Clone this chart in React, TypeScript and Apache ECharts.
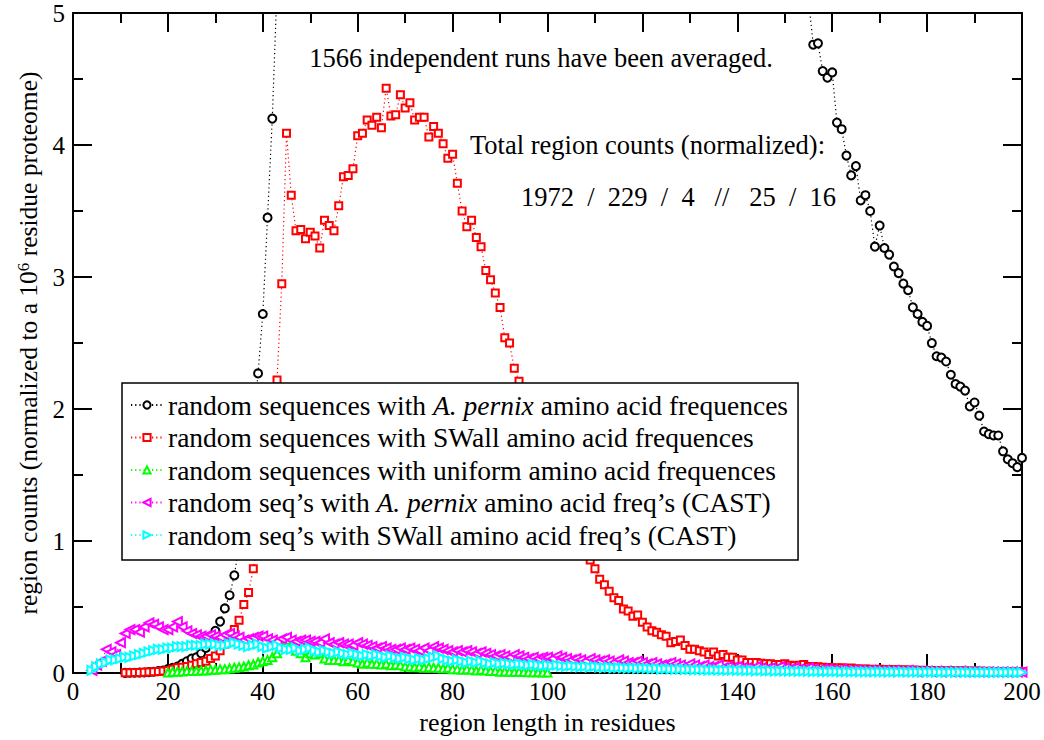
import React, { useEffect, useRef } from "react";
import * as echarts from "echarts";

const FONT = '"Liberation Serif", "Times New Roman", serif';

// x-axis ticks / y-axis ticks
const xTicks = { min: 0, max: 200, step: 20 };
const yTicks = { min: 0, max: 5, step: 1 };

// Black: random sequences with A. pernix frequencies (left part starts at length 11)
const pernixLeftStart = 11;
const pernixLeft = [
  0.002, 0.003, 0.003, 0.004, 0.005, 0.007, 0.01, 0.015, 0.02, 0.03,
  0.04, 0.05, 0.07, 0.09, 0.11, 0.12, 0.15, 0.19, 0.25, 0.32,
  0.39, 0.49, 0.59, 0.74, 0.97, 1.25, 1.55, 1.9, 2.27, 2.72,
  3.45, 4.2, 5.2,
];
// right part starts at length 155 (values in between are above the plotted range)
const pernixRightStart = 155;
const pernixRight = [
  5.1, 4.76, 4.77, 4.56, 4.51, 4.55, 4.17, 4.12, 3.92, 3.77,
  3.84, 3.58, 3.62, 3.5, 3.23, 3.39, 3.22, 3.17, 3.08, 3.03,
  2.95, 2.9, 2.77, 2.72, 2.66, 2.63, 2.5, 2.4, 2.39, 2.36,
  2.26, 2.19, 2.17, 2.14, 2.02, 2.05, 1.95, 1.83, 1.81, 1.8,
  1.8, 1.68, 1.62, 1.59, 1.56, 1.63,
];

// Red: random sequences with SWall frequencies, lengths 11..200
const swallStart = 11;
const swall = [
  0.003, 0.003, 0.004, 0.005, 0.006, 0.008, 0.01, 0.012, 0.015, 0.02,
  0.03, 0.04, 0.045, 0.05, 0.06, 0.07, 0.08, 0.09, 0.11, 0.13,
  0.17, 0.22, 0.27, 0.33, 0.4, 0.52, 0.61, 0.79, 1.02, 1.3,
  1.6, 1.92, 2.22, 2.95, 4.09, 3.62, 3.35, 3.36, 3.29, 3.34,
  3.31, 3.22, 3.43, 3.39, 3.35, 3.54, 3.76, 3.77, 3.82, 4.07,
  4.09, 4.19, 4.15, 4.21, 4.13, 4.43, 4.22, 4.23, 4.38, 4.28,
  4.32, 4.19, 4.21, 4.21, 4.06, 4.14, 4.09, 4.01, 3.9, 3.93,
  3.71, 3.5, 3.38, 3.43, 3.3, 3.23, 3.05, 2.98, 2.88, 2.77,
  2.54, 2.5, 2.31, 2.21, 2.08, 1.95, 1.83, 1.72, 1.61, 1.51,
  1.42, 1.33, 1.25, 1.17, 1.09, 1.02, 0.96, 0.91, 0.857, 0.79,
  0.71, 0.67, 0.62, 0.57, 0.55, 0.485, 0.47, 0.43, 0.44, 0.385,
  0.35, 0.32, 0.31, 0.29, 0.28, 0.23, 0.24, 0.25, 0.21, 0.18,
  0.18, 0.17, 0.16, 0.14, 0.16, 0.13, 0.14, 0.12, 0.12, 0.1,
  0.1, 0.08, 0.08, 0.08, 0.075, 0.07, 0.07, 0.065, 0.065, 0.07,
  0.06, 0.055, 0.06, 0.065, 0.05, 0.05, 0.048, 0.045, 0.042, 0.04,
  0.038, 0.04, 0.035, 0.038, 0.033, 0.03, 0.032, 0.03, 0.028, 0.03,
  0.027, 0.025, 0.027, 0.024, 0.025, 0.022, 0.023, 0.02, 0.022, 0.02,
  0.019, 0.02, 0.018, 0.017, 0.018, 0.016, 0.017, 0.015, 0.016, 0.014,
  0.015, 0.013, 0.014, 0.012, 0.013, 0.012, 0.011, 0.012, 0.01, 0.011,
];

// Green: uniform frequencies, lengths 20..100
const uniformStart = 20;
const uniform = [
  0.005, 0.01, 0.01, 0.012, 0.015, 0.015, 0.018, 0.02, 0.02, 0.025,
  0.025, 0.03, 0.03, 0.035, 0.04, 0.045, 0.05, 0.06, 0.065, 0.08,
  0.09, 0.1, 0.12, 0.15, 0.2, 0.25, 0.2, 0.17, 0.15, 0.12,
  0.15, 0.14, 0.15, 0.11, 0.1, 0.1, 0.1, 0.09, 0.1, 0.09,
  0.08, 0.07, 0.08, 0.07, 0.07, 0.065, 0.07, 0.06, 0.065, 0.06,
  0.05, 0.05, 0.045, 0.05, 0.04, 0.045, 0.04, 0.04, 0.035, 0.04,
  0.03, 0.03, 0.025, 0.03, 0.025, 0.02, 0.025, 0.02, 0.015, 0.015,
  0.01, 0.012, 0.01, 0.008, 0.01, 0.008, 0.006, 0.007, 0.006, 0.005,
  0.005,
];

// Magenta: CAST, A. pernix frequencies, lengths 4..200
const castPernixStart = 4;
const castPernix = [
  0.02, 0.06, 0.09, 0.18, 0.16, 0.14, 0.23, 0.3, 0.33, 0.33,
  0.31, 0.35, 0.38, 0.37, 0.35, 0.33, 0.33, 0.35, 0.39, 0.35,
  0.32, 0.3, 0.29, 0.28, 0.28, 0.29, 0.28, 0.27, 0.29, 0.3,
  0.28, 0.27, 0.25, 0.26, 0.27, 0.28, 0.28, 0.26, 0.25, 0.24,
  0.26, 0.27, 0.25, 0.24, 0.25, 0.25, 0.24, 0.24, 0.23, 0.26,
  0.23, 0.22, 0.23, 0.22, 0.22, 0.21, 0.23, 0.22, 0.21, 0.2,
  0.19, 0.2, 0.19, 0.18, 0.18, 0.19, 0.18, 0.19, 0.18, 0.17,
  0.19, 0.17, 0.2, 0.19, 0.18, 0.17, 0.16, 0.17, 0.16, 0.17,
  0.16, 0.15, 0.16, 0.15, 0.14, 0.13, 0.14, 0.13, 0.12, 0.14,
  0.13, 0.12, 0.11, 0.12, 0.11, 0.12, 0.12, 0.11, 0.13, 0.12,
  0.11, 0.1, 0.11, 0.1, 0.09, 0.11, 0.1, 0.09, 0.1, 0.09,
  0.08, 0.1, 0.09, 0.08, 0.08, 0.09, 0.08, 0.07, 0.08, 0.07,
  0.06, 0.07, 0.08, 0.07, 0.06, 0.05, 0.07, 0.06, 0.05, 0.06,
  0.05, 0.05, 0.06, 0.04, 0.05, 0.04, 0.05, 0.04, 0.04, 0.03,
  0.05, 0.04, 0.03, 0.04, 0.03, 0.05, 0.04, 0.03, 0.04, 0.03,
  0.03, 0.04, 0.03, 0.02, 0.03, 0.03, 0.025, 0.02, 0.03, 0.02,
  0.02, 0.025, 0.02, 0.015, 0.02, 0.02, 0.015, 0.02, 0.015, 0.02,
  0.015, 0.015, 0.02, 0.015, 0.01, 0.015, 0.015, 0.01, 0.015, 0.01,
  0.015, 0.01, 0.01, 0.015, 0.01, 0.01, 0.012, 0.01, 0.008, 0.01,
  0.01, 0.008, 0.01, 0.008, 0.01, 0.008, 0.008,
];

// Cyan: CAST, SWall frequencies, lengths 4..200
const castSwallStart = 4;
const castSwall = [
  0.02, 0.05, 0.07, 0.08, 0.1, 0.1, 0.11, 0.12, 0.12, 0.13,
  0.14, 0.15, 0.16, 0.17, 0.18, 0.18, 0.19, 0.19, 0.2, 0.2,
  0.2, 0.21, 0.21, 0.21, 0.22, 0.22, 0.22, 0.21, 0.21, 0.22,
  0.23, 0.22, 0.21, 0.2, 0.21, 0.22, 0.2, 0.19, 0.2, 0.21,
  0.19, 0.18, 0.18, 0.19, 0.17, 0.18, 0.19, 0.17, 0.16, 0.17,
  0.16, 0.15, 0.16, 0.15, 0.14, 0.15, 0.14, 0.13, 0.14, 0.13,
  0.14, 0.13, 0.12, 0.13, 0.12, 0.11, 0.12, 0.11, 0.1, 0.11,
  0.1, 0.11, 0.12, 0.13, 0.11, 0.1, 0.09, 0.1, 0.09, 0.08,
  0.09, 0.08, 0.09, 0.08, 0.07, 0.08, 0.07, 0.075, 0.07, 0.065,
  0.07, 0.065, 0.06, 0.065, 0.06, 0.055, 0.06, 0.055, 0.06, 0.055,
  0.05, 0.055, 0.05, 0.048, 0.05, 0.045, 0.05, 0.045, 0.042, 0.045,
  0.04, 0.042, 0.04, 0.038, 0.04, 0.035, 0.038, 0.035, 0.033, 0.035,
  0.03, 0.033, 0.03, 0.028, 0.03, 0.027, 0.028, 0.025, 0.027, 0.025,
  0.023, 0.025, 0.022, 0.023, 0.02, 0.022, 0.02, 0.02, 0.018, 0.02,
  0.017, 0.018, 0.016, 0.018, 0.015, 0.016, 0.015, 0.014, 0.015, 0.013,
  0.014, 0.013, 0.012, 0.013, 0.012, 0.012, 0.011, 0.012, 0.01, 0.011,
  0.01, 0.011, 0.01, 0.009, 0.01, 0.009, 0.01, 0.009, 0.008, 0.009,
  0.008, 0.009, 0.008, 0.008, 0.007, 0.008, 0.007, 0.008, 0.007, 0.007,
  0.006, 0.007, 0.006, 0.007, 0.006, 0.006, 0.006, 0.005, 0.006, 0.005,
  0.005, 0.006, 0.005, 0.005, 0.005, 0.004, 0.005,
];

const seriesNames = [
  "random sequences with A. pernix amino acid frequences",
  "random sequences with SWall amino acid frequences",
  "random sequences with uniform amino acid frequences",
  "random seq\u2019s with A. pernix amino acid freq\u2019s (CAST)",
  "random seq\u2019s with SWall amino acid freq\u2019s (CAST)",
];
const seriesColors = ["#000000", "#ff0000", "#00ff00", "#ff00ff", "#00ffff"];

const annotations = [
  "1566 independent runs have been averaged.",
  "Total region counts (normalized):",
  "1972  /  229  /  4   //   25  /  16",
];

function toPairs(start: number, vals: number[]) {
  return vals.map((v, i) => [start + i, v]);
}

export default function App() {
  const ref = useRef<HTMLDivElement>(null);
  useEffect(() => {
    document.body.style.margin = "0";
    if (!ref.current) return;
    const chart = echarts.init(ref.current, null, { renderer: "svg" });

    const pernixData = [
      ...toPairs(pernixLeftStart, pernixLeft),
      [100, null],
      ...toPairs(pernixRightStart, pernixRight),
    ];
    const datasets = [
      pernixData,
      toPairs(swallStart, swall),
      toPairs(uniformStart, uniform),
      toPairs(castPernixStart, castPernix),
      toPairs(castSwallStart, castSwall),
    ];
    const symbols = ["emptyCircle", "emptyRect", "emptyTriangle", "emptyTriangle", "emptyTriangle"];
    const rotations = [0, 0, 0, 90, -90];
    const sizes = [8, 7, 8, 9, 9];

    const axisCommon = {
      axisLine: { show: true, onZero: false, lineStyle: { color: "#000", width: 2 } },
      axisTick: { show: true, inside: true, length: 19, lineStyle: { color: "#000", width: 2 } },
      minorTick: { show: true, splitNumber: 2, length: 10, lineStyle: { color: "#000", width: 2 } },
      splitLine: { show: false },
      minorSplitLine: { show: false },
    };

    chart.setOption({
      animation: false,
      backgroundColor: "#fff",
      grid: { left: 73, right: 22, top: 13, bottom: 64, containLabel: false },
      xAxis: [
        {
          type: "value",
          min: xTicks.min,
          max: xTicks.max,
          interval: xTicks.step,
          position: "bottom",
          ...axisCommon,
          axisLabel: { fontFamily: FONT, fontSize: 25, color: "#000", margin: 6 },
          name: "region length in residues",
          nameLocation: "middle",
          nameGap: 33,
          nameTextStyle: { fontFamily: FONT, fontSize: 26, color: "#000" },
        },
        {
          type: "value",
          min: xTicks.min,
          max: xTicks.max,
          interval: xTicks.step,
          position: "top",
          ...axisCommon,
          axisLabel: { show: false },
        },
      ],
      yAxis: [
        {
          type: "value",
          min: yTicks.min,
          max: yTicks.max,
          interval: yTicks.step,
          position: "left",
          ...axisCommon,
          axisLabel: { fontFamily: FONT, fontSize: 25, color: "#000", margin: 8 },
          name: "region counts (normalized to a 10{sup|6} residue proteome)",
          nameLocation: "middle",
          nameGap: 30,
          nameTextStyle: {
            fontFamily: FONT,
            fontSize: 25.5,
            color: "#000",
            rich: {
              sup: { fontFamily: FONT, fontSize: 17, color: "#000", verticalAlign: "top", padding: [0, 0, 10, 0] },
            },
          },
        },
        {
          type: "value",
          min: yTicks.min,
          max: yTicks.max,
          interval: yTicks.step,
          position: "right",
          ...axisCommon,
          axisLabel: { show: false },
        },
      ],
      legend: {
        orient: "vertical",
        left: 122,
        top: 383,
        padding: [8, 10, 11, 8],
        itemGap: 4.5,
        itemWidth: 32,
        itemHeight: 9,
        backgroundColor: "#fff",
        borderColor: "#000",
        borderWidth: 1.5,
        z: 10,
        data: seriesNames,
        textStyle: {
          fontFamily: FONT,
          fontSize: 27.5,
          lineHeight: 25,
          color: "#000",
          rich: { i: { fontFamily: FONT, fontSize: 27.5, lineHeight: 25, fontStyle: "italic", color: "#000" } },
        },
        formatter: (n: string) => n.replace("A. pernix", "{i|A. pernix}"),
      },
      graphic: [
        {
          type: "text",
          x: 541,
          y: 58,
          style: { text: annotations[0], font: `26.5px ${FONT}`, fill: "#000", textAlign: "center", textVerticalAlign: "middle" },
          z: 20,
        },
        {
          type: "text",
          x: 470,
          y: 145,
          style: { text: annotations[1], font: `26.5px ${FONT}`, fill: "#000", textAlign: "left", textVerticalAlign: "middle" },
          z: 20,
        },
        {
          type: "text",
          x: 521,
          y: 197,
          style: { text: annotations[2], font: `26.5px ${FONT}`, fill: "#000", textAlign: "left", textVerticalAlign: "middle" },
          z: 20,
        },
      ],
      series: seriesNames.map((name, i) => ({
        name,
        type: "line",
        xAxisIndex: 0,
        yAxisIndex: 0,
        data: datasets[i],
        connectNulls: false,
        clip: true,
        symbol: symbols[i],
        symbolRotate: rotations[i],
        symbolSize: sizes[i],
        showAllSymbol: true,
        color: seriesColors[i],
        lineStyle: { color: seriesColors[i], width: 1.2, type: [1.2, 3] },
        itemStyle: { color: seriesColors[i], borderColor: seriesColors[i], borderWidth: 1.3 },
        z: 2 + i,
      })),
    });
    return () => chart.dispose();
  }, []);
  return <div ref={ref} style={{ width: 1044, height: 740 }} />;
}
